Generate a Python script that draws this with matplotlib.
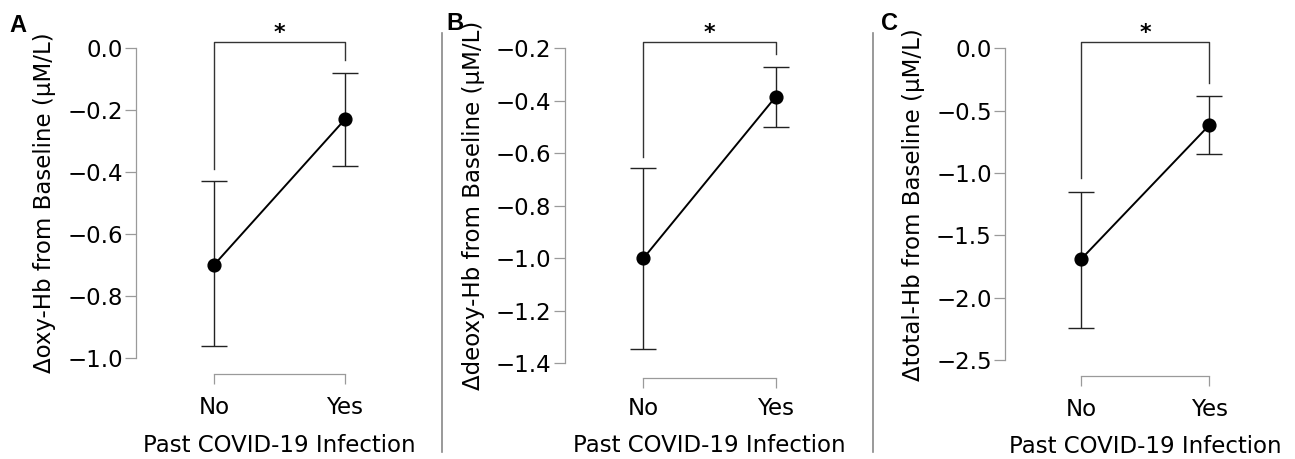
import matplotlib
matplotlib.use("Agg")
import matplotlib.pyplot as plt
import numpy as np

plt.rcParams['font.family'] = ['DejaVu Sans']

categories = ['No', 'Yes']
xlabel = 'Past COVID-19 Infection'

# Panel A: oxy-Hb
oxy_mean = [-0.70, -0.23]
oxy_lo = [-0.96, -0.38]
oxy_hi = [-0.43, -0.08]
oxy_ticks = [0.0, -0.2, -0.4, -0.6, -0.8, -1.0]
oxy_bracket = [-0.39, 0.02, -0.04]   # left leg end, top, right leg end

# Panel B: deoxy-Hb
deoxy_mean = [-1.00, -0.385]
deoxy_lo = [-1.345, -0.50]
deoxy_hi = [-0.655, -0.27]
deoxy_ticks = [-0.2, -0.4, -0.6, -0.8, -1.0, -1.2, -1.4]
deoxy_bracket = [-0.615, -0.175, -0.22]

# Panel C: total-Hb
total_mean = [-1.69, -0.615]
total_lo = [-2.245, -0.85]
total_hi = [-1.155, -0.38]
total_ticks = [0.0, -0.5, -1.0, -1.5, -2.0, -2.5]
total_bracket = [-1.04, 0.05, -0.28]

W, H = 1295, 459
DPI = 100
fig = plt.figure(figsize=(W / DPI, H / DPI), dpi=DPI)

GREY = '#9a9a9a'
FS = 16.5


def px2pt(p):
    return p * 72.0 / DPI


def make_panel(rect_px, mean, lo, hi, ticks, bracket, ylabel, letter, letter_xy,
               bottom_out_px, xpad, xlabelpad):
    l, r, t, b = rect_px
    ax = fig.add_axes([l / W, 1 - b / H, (r - l) / W, (b - t) / H])
    x = np.arange(len(categories))
    ax.set_xlim(-0.595, 1.595)
    ax.set_ylim(min(ticks), max(ticks))
    mean = np.array(mean)
    yerr = np.vstack([mean - np.array(lo), np.array(hi) - mean])
    ax.errorbar(x, mean, yerr=yerr, fmt='none', ecolor='#222222',
                elinewidth=1.0, capsize=9.7, capthick=1.0, zorder=2)
    ax.plot(x, mean, color='black', lw=1.4, marker='o', markersize=9.2,
            markerfacecolor='black', markeredgecolor='black', zorder=3)
    # significance bracket
    ax.plot([0, 0, 1, 1], [bracket[0], bracket[1], bracket[1], bracket[2]],
            color='#333333', lw=1.0, clip_on=False)
    ax.annotate('*', xy=(0.5, bracket[1]), xytext=(0, -1),
                textcoords='offset points', ha='center', va='bottom',
                fontsize=16, fontweight='bold', annotation_clip=False)

    for s in ['top', 'right']:
        ax.spines[s].set_visible(False)
    ax.spines['left'].set_color(GREY)
    ax.spines['bottom'].set_color(GREY)
    ax.spines['left'].set_linewidth(0.9)
    ax.spines['bottom'].set_linewidth(0.9)
    ax.spines['left'].set_bounds(min(ticks), max(ticks))
    ax.spines['bottom'].set_bounds(0, 1)
    ax.spines['bottom'].set_position(('outward', px2pt(bottom_out_px)))

    ax.set_yticks(ticks)
    ax.set_yticklabels(['%.1f' % v if v >= 0 else '\u2212%.1f' % abs(v)
                        for v in ticks])
    ax.set_xticks(x)
    ax.set_xticklabels(categories)
    ax.tick_params(axis='y', direction='out', length=8, width=0.9,
                   color=GREY, labelsize=FS, pad=1.5)
    ax.tick_params(axis='x', direction='out', length=7.5, width=0.9,
                   color=GREY, labelsize=FS, pad=xpad)
    ax.set_ylabel(ylabel, fontsize=FS, labelpad=8)
    ax.set_xlabel(xlabel, fontsize=FS, labelpad=xlabelpad)
    fig.text(letter_xy[0] / W, 1 - letter_xy[1] / H, letter, fontsize=17,
             fontweight='bold', ha='center', va='center',
             family=['Liberation Sans', 'DejaVu Sans'])
    return ax


make_panel((136, 423, 48, 358), oxy_mean, oxy_lo, oxy_hi, oxy_ticks,
           oxy_bracket, '\u0394oxy-Hb from Baseline (\u03bcM/L)', 'A',
           (18, 25), 16, 8, 11)
make_panel((564.7, 854.3, 48.3, 363.3), deoxy_mean, deoxy_lo, deoxy_hi,
           deoxy_ticks, deoxy_bracket,
           '\u0394deoxy-Hb from Baseline (\u03bcM/L)', 'B', (455, 23), 14.7,
           6.5, 9.5)
make_panel((1005, 1285.7, 48.3, 360), total_mean, total_lo, total_hi,
           total_ticks, total_bracket,
           '\u0394total-Hb from Baseline (\u03bcM/L)', 'C', (890, 23), 16,
           8, 10.5)

# vertical divider lines between panels
for xd in [441.7, 872.7]:
    fig.add_artist(plt.Line2D([xd / W, xd / W], [1 - 33 / H, 1 - 452 / H],
                              color='#888888', lw=1.2))

fig.savefig('out.png', dpi=DPI, facecolor='white')
